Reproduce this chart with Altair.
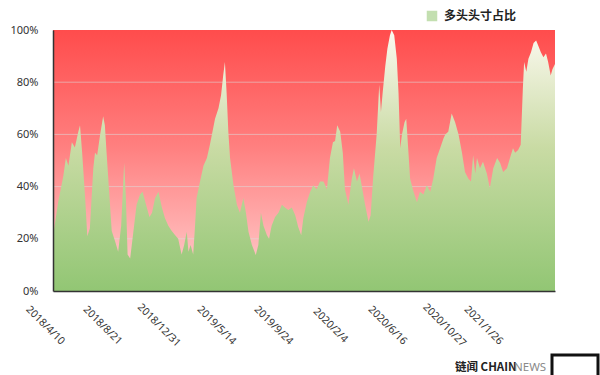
import altair as alt
import pandas as pd

series_name = "多头头寸占比"
start_date = "2018-03-18"
end_date = "2021-06-01"

# days after start_date
day_offsets = [
    0, 12, 24, 30, 36, 44, 51, 59, 63, 68,
    75, 80, 86, 94, 98, 103, 110, 117, 121, 125,
    131, 137, 145, 152, 159, 166, 170, 174, 180, 187,
    195, 203, 209, 217, 225, 231, 238, 246, 254, 261,
    269, 277, 285, 292, 300, 306, 312, 316, 321, 327,
    331, 335, 343, 351, 359, 366, 378, 386, 392, 397,
    401, 405, 409, 413, 421, 429, 436, 444, 450, 456,
    464, 473, 479, 485, 491, 499, 504, 510, 518, 526,
    534, 541, 549, 557, 565, 572, 579, 584, 592, 600,
    607, 615, 623, 631, 639, 646, 653, 658, 663, 670,
    676, 681, 689, 697, 702, 709, 715, 720, 728, 736,
    741, 747, 755, 761, 765, 769, 775, 780, 786, 790,
    796, 802, 806, 810, 814, 820, 824, 828, 833, 841,
    849, 856, 864, 872, 880, 887, 895, 903, 911, 915,
    922, 930, 938, 946, 954, 961, 969, 975, 980, 985,
    989, 996, 1003, 1012, 1019, 1027, 1036, 1043, 1050, 1059,
    1066, 1073, 1078, 1085, 1091, 1096, 1099, 1104, 1109, 1115,
    1121, 1127, 1132, 1138, 1144, 1150, 1155, 1161, 1165, 1171,
]

# long position share, percent
long_share = [
    21, 34, 44, 51, 48, 57, 55, 61, 63.5, 53,
    35.5, 21, 24, 47, 53, 52, 60, 67, 63.5, 53,
    38, 23, 19, 15, 25, 49, 36, 14, 12.5, 22,
    33, 37, 38, 33, 28.4, 30, 35.5, 38, 32, 28,
    25, 23, 21.4, 20, 14, 17.6, 22.7, 15, 17.6, 14,
    24, 35.6, 42, 48, 51, 56, 66, 70, 75, 82.6,
    87.7, 76, 61, 51, 40.5, 33, 30, 35.6, 30, 22.7,
    17.6, 13.8, 17.6, 30, 25, 21.4, 20, 25, 28.4, 30,
    33, 32, 31, 32, 29, 24.5, 21.4, 28, 34, 38,
    40.5, 39, 42, 42, 39, 51, 57, 57.5, 63.5, 61,
    53, 39, 33, 43, 47, 42, 45, 40.5, 33, 26.5,
    29, 44, 60, 79, 68.6, 76, 86, 92.8, 98, 100,
    98, 89, 76, 54.7, 60, 64.7, 66, 56, 43, 38,
    34, 38, 37, 40.5, 38, 43, 51, 54.7, 58.5, 60,
    61, 68, 64.7, 60, 53, 45.6, 43, 42, 52, 45,
    51, 47, 49.5, 45, 39.4, 47, 51, 49, 45.6, 47,
    51, 54.7, 53, 54, 56, 77.5, 87.7, 84, 89, 91.5,
    95, 96, 94, 91.5, 89.6, 91, 87.7, 82.6, 85, 87,
]

tick_dates = ["2018/4/10", "2018/8/21", "2018/12/31", "2019/5/14", "2019/9/24",
              "2020/2/4", "2020/6/16", "2020/10/27", "2021/1/26"]
y_ticks = [0, 20, 40, 60, 80, 100]
grid_levels = [20, 40, 60, 80]


def to_dt(s, sep):
    y, m, d = [int(v) for v in s.split(sep)]
    return alt.DateTime(year=y, month=m, date=d)


df = pd.DataFrame({
    "date": pd.Timestamp(start_date) + pd.to_timedelta(day_offsets, unit="D"),
    "share": long_share,
})
bg_df = pd.DataFrame({"x0": [pd.Timestamp(start_date)], "x1": [pd.Timestamp(end_date)],
                      "y0": [0], "y1": [100]})
grid_df = pd.DataFrame({"level": grid_levels})
legend_df = pd.DataFrame({"series": [series_name]})

FONT = "Noto Sans"
x_scale = alt.Scale(domain=[to_dt(start_date, "-"), to_dt(end_date, "-")])
y_scale = alt.Scale(domain=[0, 100], nice=False)

x_axis = alt.Axis(values=[to_dt(t, "/") for t in tick_dates], format="%Y/%-m/%-d",
                  labelAngle=45, labelAlign="center", labelBaseline="middle",
                  labelPadding=34, labelOffset=-18, ticks=False, tickSize=0, grid=False,
                  domainColor="#333333", domainWidth=1.5, labelColor="#333333",
                  labelFontSize=10.5, labelFont=FONT, title=None, labelOverlap=False,
                  labelBound=False, labelFlush=False, zindex=1)
y_axis = alt.Axis(values=y_ticks, labelExpr="datum.value + '%'", ticks=False, tickSize=0,
                  grid=False, domainColor="#333333", domainWidth=1.5, labelColor="#333333",
                  labelFontSize=11, labelFont=FONT, labelPadding=15, title=None, zindex=1)

bg_grad = alt.Gradient(gradient="linear", x1=0, x2=0, y1=0, y2=1, stops=[
    alt.GradientStop(color="#ff4c4c", offset=0),
    alt.GradientStop(color="#ff8080", offset=0.45),
    alt.GradientStop(color="#ffd4d4", offset=1),
])
area_grad = alt.Gradient(gradient="linear", x1=0, x2=0, y1=0, y2=1, stops=[
    alt.GradientStop(color="#fcf9f0", offset=0),
    alt.GradientStop(color="#c9dba4", offset=0.45),
    alt.GradientStop(color="#92c674", offset=1),
])

background = alt.Chart(bg_df).mark_rect(color=bg_grad).encode(
    x=alt.X("x0:T", scale=x_scale, axis=x_axis),
    x2="x1:T",
    y=alt.Y("y0:Q", scale=y_scale, axis=y_axis),
    y2="y1:Q",
)

grid = alt.Chart(grid_df).mark_rule(color="#dcdcdc", opacity=0.55, strokeWidth=1).encode(
    y=alt.Y("level:Q", scale=y_scale, axis=y_axis),
)

area = alt.Chart(df).mark_area(color=area_grad, interpolate="linear").encode(
    x=alt.X("date:T", scale=x_scale, axis=x_axis),
    y=alt.Y("share:Q", scale=y_scale, axis=y_axis),
)

legend_layer = alt.Chart(legend_df).transform_filter("false").mark_square().encode(
    color=alt.Color("series:N",
                    scale=alt.Scale(domain=[series_name], range=["#a9d18e"]),
                    legend=alt.Legend(title=None, orient="none", legendX=373, legendY=-20,
                                      symbolType="square", symbolSize=110, symbolStrokeWidth=0,
                                      labelFont="Noto Sans CJK SC", labelFontSize=12,
                                      labelFontWeight="bold", labelColor="#222222",
                                      labelOffset=6, padding=0)),
)

logo_a = alt.Chart(legend_df).mark_text(text="链闻 CHAIN", align="left", baseline="middle",
                                        font="Noto Sans CJK SC", fontSize=11.5,
                                        fontWeight="bold", color="#222222").encode(
    x=alt.value(402), y=alt.value(338))
logo_b = alt.Chart(legend_df).mark_text(text="NEWS", align="left", baseline="middle",
                                        font="Noto Sans", fontSize=11.5,
                                        color="#8a8a8a").encode(
    x=alt.value(461), y=alt.value(338))

corner_box = alt.Chart(legend_df).mark_rect(fill="white", stroke="#111111",
                                            strokeWidth=3).encode(
    x=alt.value(499), x2=alt.value(545), y=alt.value(325), y2=alt.value(350))

chart = alt.layer(background, grid, area, legend_layer, logo_a, logo_b, corner_box).properties(
    width=502, height=261,
    autosize=alt.AutoSizeParams(type="none"),
    padding={"left": 53, "top": 30, "right": 45, "bottom": 84},
    background="white",
).configure_view(stroke=None)

chart.save("out.html", embed_options={"renderer": "svg", "actions": False})
